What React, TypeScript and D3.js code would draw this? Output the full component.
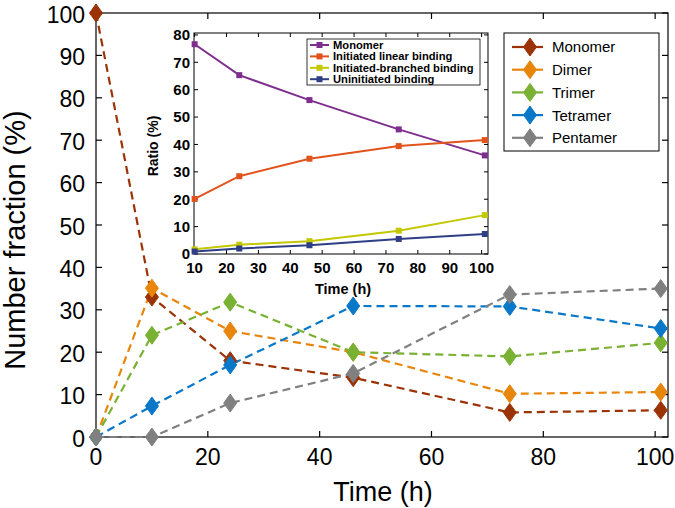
import React from "react";
import * as d3 from "d3";

const times = [0, 10, 24, 46, 74, 101];
const seriesNames = ["Monomer", "Dimer", "Trimer", "Tetramer", "Pentamer"];
const monomer = [100, 33, 18, 14, 5.8, 6.3];
const dimer = [0, 35.1, 25, 20, 10.2, 10.6];
const trimer = [0, 24, 31.8, 20, 19, 22.2];
const tetramer = [0, 7.3, 17, 30.9, 30.8, 25.6];
const pentamer = [0, 0, 8, 15, 33.6, 35];
const mainColors = ["#9c3306", "#e8860c", "#79b132", "#0a78c8", "#808080"];
const mainXTicks = [0, 20, 40, 60, 80, 100];
const mainYTicks = [0, 10, 20, 30, 40, 50, 60, 70, 80, 90, 100];

const insetTimes = [10, 24, 46, 74, 101];
const insetNames = ["Monomer", "Initiated linear binding", "Initiated-branched binding", "Uninitiated binding"];
const insetMonomer = [76.6, 65.3, 56.2, 45.5, 36.0];
const insetLinear = [20.1, 28.4, 34.8, 39.4, 41.6];
const insetBranched = [1.7, 3.4, 4.7, 8.5, 14.2];
const insetUninit = [0.9, 2.0, 3.2, 5.5, 7.3];
const insetColors = ["#7e2f8e", "#e2531c", "#c4c800", "#2e3f86"];
const insetXTicks = [10, 20, 30, 40, 50, 60, 70, 80, 90, 100];
const insetYTicks = [0, 10, 20, 30, 40, 50, 60, 70, 80];

const font = "'Liberation Sans', Arial, Helvetica, sans-serif";

export default function App() {
  const W = 675, H = 508;
  const x = d3.scaleLinear().domain([0, 102.3]).range([96, 668]);
  const y = d3.scaleLinear().domain([0, 100]).range([437, 13]);
  const mainData = [monomer, dimer, trimer, tetramer, pentamer];
  const line = d3.line<number>().x((_, i) => x(times[i])).y((d) => y(d));

  const ix = d3.scaleLinear().domain([9.8, 102]).range([194, 488]);
  const iy = d3.scaleLinear().domain([0, 80.7]).range([254, 33]);
  const insetData = [insetMonomer, insetLinear, insetBranched, insetUninit];
  const iline = d3.line<number>().x((_, i) => ix(insetTimes[i])).y((d) => iy(d));

  const diamond = (cx: number, cy: number, w = 6.5, h = 9) =>
    `M${cx},${cy - h}L${cx + w},${cy}L${cx},${cy + h}L${cx - w},${cy}Z`;

  const [x0, x1] = x.range();
  const [y0, y1] = y.range();
  const [ix0, ix1] = ix.range();
  const [iy0, iy1] = iy.range();

  return (
    <svg width={W} height={H} style={{ position: "absolute", left: 0, top: 0, background: "#fff" }} fontFamily={font}>
      <rect x={0} y={0} width={W} height={H} fill="#fff" />
      {/* main frame */}
      <rect x={x0} y={y1} width={x1 - x0} height={y0 - y1} fill="none" stroke="#000" strokeWidth={1.2} />
      {mainYTicks.map((t) => (
        <g key={"my" + t}>
          <line x1={x0} x2={x0 + 6} y1={y(t)} y2={y(t)} stroke="#000" strokeWidth={1.2} />
          <line x1={x1} x2={x1 - 6} y1={y(t)} y2={y(t)} stroke="#000" strokeWidth={1.2} />
          <text x={x0 - 11} y={y(t)} dy="0.42em" textAnchor="end" fontSize={23}>{t}</text>
        </g>
      ))}
      {mainXTicks.map((t) => (
        <g key={"mx" + t}>
          <line x1={x(t)} x2={x(t)} y1={y0} y2={y0 - 6} stroke="#000" strokeWidth={1.2} />
          <line x1={x(t)} x2={x(t)} y1={y1} y2={y1 + 6} stroke="#000" strokeWidth={1.2} />
          <text x={x(t)} y={y0 + 28} textAnchor="middle" fontSize={23}>{t}</text>
        </g>
      ))}
      <text x={383} y={501} textAnchor="middle" fontSize={27}>Time (h)</text>
      <text transform={`translate(25,240) rotate(-90)`} textAnchor="middle" fontSize={29}>Number fraction (%)</text>

      {/* main series */}
      {mainData.map((vals, si) => (
        <g key={"ms" + si}>
          <path d={line(vals) || ""} fill="none" stroke={mainColors[si]} strokeWidth={2.2} strokeDasharray="8,5" />
        </g>
      ))}
      {mainData.map((vals, si) => (
        <g key={"mm" + si}>
          {vals.map((v, i) => (
            <path key={i} d={diamond(x(times[i]), y(v))} fill={mainColors[si]} stroke={mainColors[si]} strokeWidth={1} />
          ))}
        </g>
      ))}

      {/* main legend */}
      <rect x={504} y={33} width={155} height={118} fill="#fff" stroke="#000" strokeWidth={1} />
      {seriesNames.map((n, i) => {
        const ly = 47 + i * 22.7;
        return (
          <g key={"ml" + i}>
            <line x1={512} x2={543} y1={ly} y2={ly} stroke={mainColors[i]} strokeWidth={2.2} />
            <path d={diamond(530, ly)} fill={mainColors[i]} stroke={mainColors[i]} />
            <text x={552} y={ly} dy="0.36em" fontSize={15}>{n}</text>
          </g>
        );
      })}

      {/* inset */}
      <rect x={ix0} y={iy1} width={ix1 - ix0} height={iy0 - iy1} fill="#fff" stroke="#000" strokeWidth={1} />
      {insetYTicks.map((t) => (
        <g key={"iy" + t}>
          <line x1={ix0} x2={ix0 + 4} y1={iy(t)} y2={iy(t)} stroke="#000" />
          <line x1={ix1} x2={ix1 - 4} y1={iy(t)} y2={iy(t)} stroke="#000" />
          <text x={ix0 - 4} y={iy(t)} dy="0.36em" textAnchor="end" fontSize={15} fontWeight="bold">{t}</text>
        </g>
      ))}
      {insetXTicks.map((t) => (
        <g key={"ix" + t}>
          <line x1={ix(t)} x2={ix(t)} y1={iy0} y2={iy0 - 4} stroke="#000" />
          <line x1={ix(t)} x2={ix(t)} y1={iy1} y2={iy1 + 4} stroke="#000" />
          <text x={ix(t)} y={iy0 + 19} textAnchor="middle" fontSize={15} fontWeight="bold">{t}</text>
        </g>
      ))}
      <text x={343} y={294} textAnchor="middle" fontSize={14.5} fontWeight="bold">Time (h)</text>
      <text transform={`translate(158,146) rotate(-90)`} textAnchor="middle" fontSize={14} fontWeight="bold">Ratio (%)</text>
      {insetData.map((vals, si) => (
        <g key={"is" + si}>
          <path d={iline(vals) || ""} fill="none" stroke={insetColors[si]} strokeWidth={2} />
          {vals.map((v, i) => (
            <rect key={i} x={ix(insetTimes[i]) - 3} y={iy(v) - 3} width={6} height={6} fill={insetColors[si]} />
          ))}
        </g>
      ))}
      <rect x={307} y={39} width={173} height={46} fill="#fff" stroke="#000" strokeWidth={0.8} />
      {insetNames.map((n, i) => {
        const ly = 45 + i * 11.4;
        return (
          <g key={"il" + i}>
            <line x1={310} x2={329} y1={ly} y2={ly} stroke={insetColors[i]} strokeWidth={2} />
            <rect x={316.5} y={ly - 3} width={6} height={6} fill={insetColors[i]} />
            <text x={333} y={ly} dy="0.36em" fontSize={11.2} fontWeight="bold">{n}</text>
          </g>
        );
      })}
    </svg>
  );
}
